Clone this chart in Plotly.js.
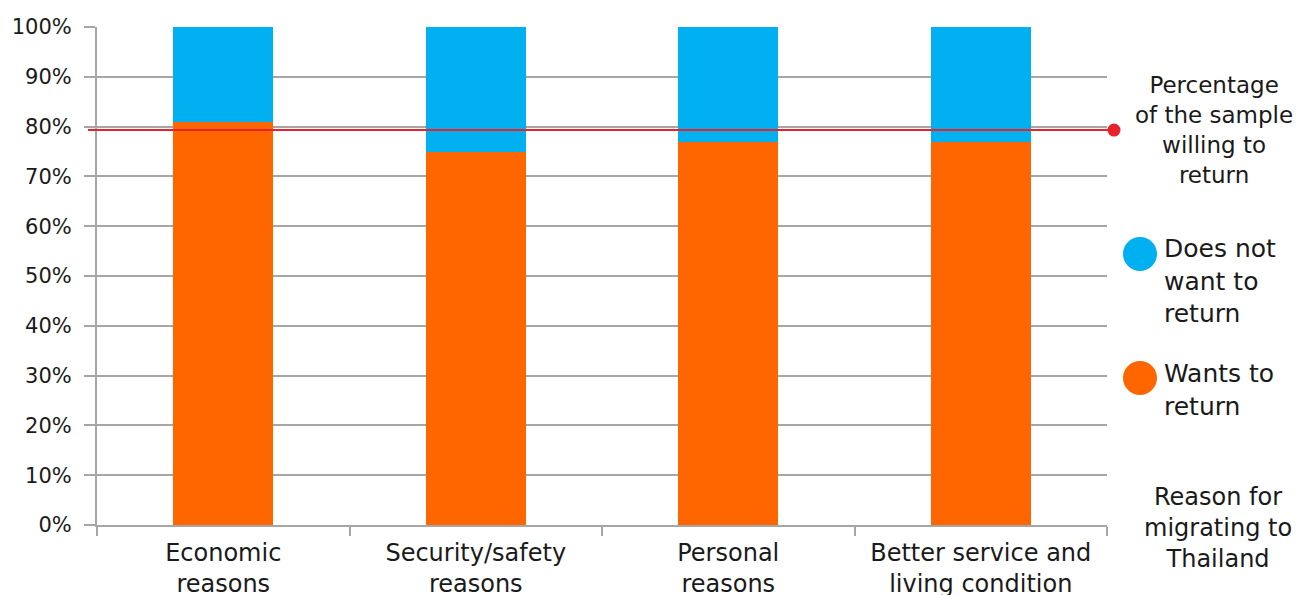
<!DOCTYPE html>
<html>
<head>
<meta charset="utf-8">
<script src="https://cdn.plot.ly/plotly-3.0.1.min.js"></script>
<style>html,body{margin:0;padding:0;background:#fff;}#chart{width:1306px;height:595px;}</style>
</head>
<body>
<div id="chart"></div>
<script>
var categories = ['Economic<br>reasons', 'Security/safety<br>reasons', 'Personal<br>reasons', 'Better service and<br>living condition'];
var wantsToReturn = [81, 75, 77, 77];
var doesNotWant = [19, 25, 23, 23];
var sampleWillingToReturn = 79.3;
var yTickVals = [0, 10, 20, 30, 40, 50, 60, 70, 80, 90, 100];

var FONT = 'DejaVu Sans, sans-serif';
var ORANGE = '#ff6600', BLUE = '#00b0f0', RED = '#e8222a', GRID = '#a6a6a6';

// plot area in pixels: left 97, right 1107, top 27, bottom 525
var PL = 97, PR = 1107, PT = 27, PB = 525;
function px(x) { return (x - PL) / (PR - PL); }
function py(y) { return (PB - y) / (PB - PT); }

var traces = [
  {type: 'bar', name: 'Wants to return', x: categories, y: wantsToReturn,
   marker: {color: ORANGE}, showlegend: false, hoverinfo: 'skip'},
  {type: 'bar', name: 'Does not want to return', x: categories, y: doesNotWant,
   marker: {color: BLUE}, showlegend: false, hoverinfo: 'skip'}
];

var rDot = 6.5, rLeg = 17;
var layout = {
  width: 1306, height: 595,
  margin: {l: PL, r: 1306 - PR, t: PT, b: 595 - PB, pad: 0},
  paper_bgcolor: '#fff', plot_bgcolor: '#fff',
  barmode: 'stack', bargap: 0.604,
  font: {family: FONT, color: '#1a1a1a'},
  xaxis: {
    type: 'category', showgrid: false, showline: true, linecolor: GRID, linewidth: 2,
    ticks: 'outside', tickson: 'boundaries', ticklen: 9, tickcolor: GRID, tickwidth: 2,
    ticklabelstandoff: 5,
    tickfont: {family: FONT, size: 24, color: '#1a1a1a'}, zeroline: false, fixedrange: true
  },
  yaxis: {
    range: [0, 100], tickvals: yTickVals, ticktext: yTickVals.map(function(v){return v + '%';}),
    showgrid: true, gridcolor: GRID, gridwidth: 2, showline: true, linecolor: GRID, linewidth: 2,
    ticks: 'outside', ticklen: 11, tickcolor: GRID, tickwidth: 2, zeroline: false,
    ticklabelstandoff: 8,
    tickfont: {family: FONT, size: 21, color: '#1a1a1a'}, fixedrange: true
  },
  shapes: [
    {type: 'line', xref: 'paper', yref: 'y', x0: px(88), x1: px(1114),
     y0: sampleWillingToReturn, y1: sampleWillingToReturn, line: {color: RED, width: 2}},
    {type: 'circle', xref: 'paper', yref: 'y', x0: px(1114 - rDot), x1: px(1114 + rDot),
     y0: sampleWillingToReturn - rDot / 4.98, y1: sampleWillingToReturn + rDot / 4.98,
     fillcolor: RED, line: {width: 0}},
    {type: 'circle', xref: 'paper', yref: 'paper', x0: px(1140 - rLeg), x1: px(1140 + rLeg),
     y0: py(254 + rLeg), y1: py(254 - rLeg), fillcolor: BLUE, line: {width: 0}},
    {type: 'circle', xref: 'paper', yref: 'paper', x0: px(1140 - rLeg), x1: px(1140 + rLeg),
     y0: py(378 + rLeg), y1: py(378 - rLeg), fillcolor: ORANGE, line: {width: 0}}
  ],
  annotations: [
    {xref: 'paper', yref: 'paper', x: px(1214), y: py(130), xanchor: 'center', yanchor: 'middle',
     align: 'center', showarrow: false, text: 'Percentage<br>of the sample<br>willing to<br>return',
     font: {family: FONT, size: 23, color: '#1a1a1a'}},
    {xref: 'paper', yref: 'paper', x: px(1162), y: py(281), xanchor: 'left', yanchor: 'middle',
     align: 'left', showarrow: false, text: 'Does not<br>want to<br>return',
     font: {family: FONT, size: 25, color: '#1a1a1a'}},
    {xref: 'paper', yref: 'paper', x: px(1162), y: py(390), xanchor: 'left', yanchor: 'middle',
     align: 'left', showarrow: false, text: 'Wants to<br>return',
     font: {family: FONT, size: 25, color: '#1a1a1a'}},
    {xref: 'paper', yref: 'paper', x: px(1218), y: py(528), xanchor: 'center', yanchor: 'middle',
     align: 'center', showarrow: false, text: 'Reason for<br>migrating to<br>Thailand',
     font: {family: FONT, size: 24, color: '#1a1a1a'}}
  ]
};

Plotly.newPlot('chart', traces, layout, {displayModeBar: false, staticPlot: true});
</script>
</body>
</html>
